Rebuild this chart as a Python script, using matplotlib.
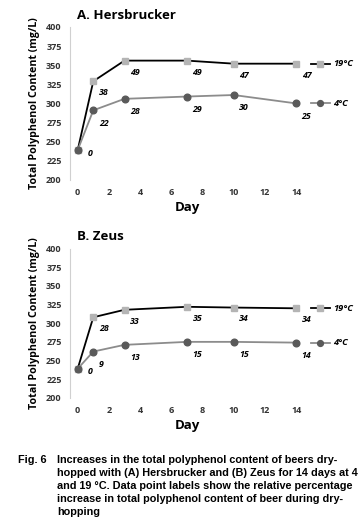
import matplotlib.pyplot as plt
from matplotlib.lines import Line2D

days = [0, 1, 3, 7, 10, 14]

# A. Hersbrucker
herb_19 = [239, 329, 356, 356, 352, 352]
herb_4 = [239, 291, 306, 309, 311, 300]
herb_19_lbl = [None, 38, 49, 49, 47, 47]
herb_4_lbl = [0, 22, 28, 29, 30, 25]

# B. Zeus
zeus_19 = [239, 308, 318, 322, 321, 320]
zeus_4 = [239, 262, 271, 275, 275, 274]
zeus_19_lbl = [None, 28, 33, 35, 34, 34]
zeus_4_lbl = [0, 9, 13, 15, 15, 14]

yticks = [200, 225, 250, 275, 300, 325, 350, 375, 400]
xticks = [0, 2, 4, 6, 8, 10, 12, 14]

c_hot_line, c_hot_mk = '#000000', '#b4b4b4'
c_cold_line, c_cold_mk = '#8c8c8c', '#5a5a5a'
font = 'Open Sans'

fig = plt.figure(figsize=(3.64, 5.29), dpi=100)


def panel(rect, title, hot, cold, hot_lbl, cold_lbl):
    ax = fig.add_axes(rect)
    ax.plot(days, hot, color=c_hot_line, lw=1.3, marker='s', ms=4.8,
            mfc=c_hot_mk, mec=c_hot_mk, zorder=3)
    ax.plot(days, cold, color=c_cold_line, lw=1.3, marker='o', ms=4.8,
            mfc=c_cold_mk, mec=c_cold_mk, zorder=3)
    for d, v, l in zip(days, hot, hot_lbl):
        if l is not None:
            ax.annotate(str(l), (d, v), xytext=(4, -10), textcoords='offset points',
                        fontsize=6.3, fontweight='bold', style='italic', family=font)
    for d, v, l in zip(days, cold, cold_lbl):
        off = (7, -4) if d == 0 else (4, -11)
        ax.annotate(str(l), (d, v), xytext=off, textcoords='offset points',
                    fontsize=6.3, fontweight='bold', style='italic', family=font)

    ax.set_xlim(-0.5, 14.5)
    ax.set_ylim(200, 400)
    ax.set_xticks(xticks)
    ax.set_yticks(yticks)
    for s in ['top', 'right', 'bottom']:
        ax.spines[s].set_visible(False)
    ax.spines['left'].set_color('#d0d0d0')
    ax.tick_params(length=0, labelsize=6.5, pad=6, colors='#333333')
    for t in ax.get_xticklabels() + ax.get_yticklabels():
        t.set_fontweight('bold')
        t.set_family(font)
    ax.set_xlabel('Day', fontsize=9.5, fontweight='bold', family=font, labelpad=3)
    ax.set_ylabel('Total Polyphenol Content (mg/L)', fontsize=7.7,
                  fontweight='bold', family=font, labelpad=4)
    ax.set_title(title, fontsize=9.5, fontweight='bold', family=font,
                 loc='left', x=0.03, pad=6)

    # legend entries aligned with the final values
    tr = ax.get_yaxis_transform()
    for vals, lc, mc, mk, name in [(hot, c_hot_line, c_hot_mk, 's', '19°C'),
                                   (cold, c_cold_line, c_cold_mk, 'o', '4°C')]:
        y = vals[-1]
        ax.add_line(Line2D([1.03, 1.11], [y, y], transform=tr, color=lc,
                           lw=1.3, clip_on=False))
        ax.add_line(Line2D([1.07], [y], transform=tr, marker=mk, ms=4.2,
                           mfc=mc, mec=mc, clip_on=False))
        ax.text(1.125, y, name, transform=tr, va='center', fontsize=6.7,
                fontweight='bold', style='italic', family=font)
    return ax


panel([0.192, 0.660, 0.643, 0.289], 'A. Hersbrucker',
      herb_19, herb_4, herb_19_lbl, herb_4_lbl)
panel([0.192, 0.248, 0.643, 0.282], 'B. Zeus',
      zeus_19, zeus_4, zeus_19_lbl, zeus_4_lbl)

caption = ['Increases in the total polyphenol content of beers dry-',
           'hopped with (A) Hersbrucker and (B) Zeus for 14 days at 4',
           'and 19 °C. Data point labels show the relative percentage',
           'increase in total polyphenol content of beer during dry-',
           'hopping']
fig.text(18 / 364, 1 - 460 / 529, 'Fig. 6', fontsize=7.8, fontweight='bold',
         family='Liberation Sans', va='center')
for i, line in enumerate(caption):
    fig.text(57 / 364, 1 - (460 + 13 * i) / 529, line, fontsize=7.8,
             fontweight='bold', family='Liberation Sans', va='center')

fig.savefig('out.png', dpi=100)
